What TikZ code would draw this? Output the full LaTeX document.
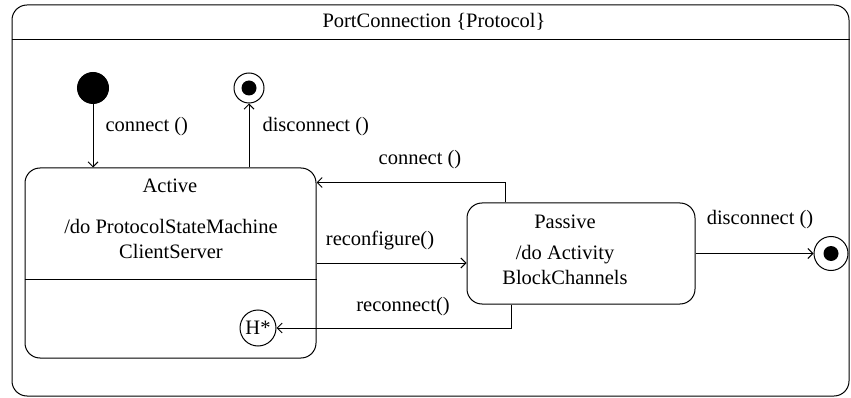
\documentclass[tikz,border=0pt]{standalone}
\usepackage{fontspec}
\setmainfont{Liberation Serif}
\usetikzlibrary{arrows.meta}

\begin{document}
\begin{tikzpicture}[x=1pt, y=-1pt, line width=1pt,
  every node/.style={font=\fontsize{20.5}{25}\selectfont},
  statebox/.style={draw, rectangle, rounded corners=15pt, inner sep=0pt},
  arr/.style={-{Straight Barb[length=5pt,width=10pt]}},
  lbl/.style={inner sep=1pt},
  initst/.style={circle, fill=black, draw, minimum size=31pt, inner sep=0pt},
  finst/.style={circle, draw, minimum size=30pt, inner sep=0pt,
    path picture={\fill (path picture bounding box.center) circle (7.5pt);}}
]
  \useasboundingbox (0,0) rectangle (851,398);

  % frame
  \node[statebox, minimum width=837pt, minimum height=391pt] (frame) at (430.5,200.5) {};
  \draw (frame.west |- 0,40) -- (frame.east |- 0,40);
  \node (title) at (434,22) {PortConnection \{Protocol\}};

  % states
  \node[initst] (init) at (93,88) {};
  \node[finst] (fin1) at (249,88) {};
  \node[finst, minimum size=34pt] (fin2) at (831,253.5) {};

  \node[statebox, minimum width=291pt, minimum height=190pt] (active) at (170.5,263) {};
  \node (acttitle) at (170,186) {Active};
  \node[align=center] (actdo) at (171,239) {/do ProtocolStateMachine\\ClientServer};
  \draw (active.west |- 0,279) -- (active.east |- 0,279);
  \node[circle, draw, minimum size=36pt, inner sep=0pt] (hist) at (258,328) {H*};

  \node[statebox, minimum width=228pt, minimum height=101pt] (passive) at (581,253.5) {};
  \node (pastitle) at (565,222) {Passive};
  \node[align=center] (pasdo) at (565,265) {/do Activity\\BlockChannels};

  % transitions
  \draw[arr] (init) -- (init |- active.north);
  \node[lbl, anchor=west] (l1) at (104,127) {connect ()};
  \draw[arr] (fin1 |- active.north) -- (fin1);
  \node[lbl, anchor=west] (l2) at (261,127) {disconnect ()};

  \draw[arr] ([xshift=-76pt]passive.north) |- ([yshift=-15pt]active.north east);
  \node[lbl] (l3) at (420,160) {connect ()};
  \draw[arr] (active.east) -- (active.east -| passive.west);
  \node[lbl] (l4) at (380,240) {reconfigure()};
  \draw[arr] ([xshift=-70pt]passive.south) |- (hist.east);
  \node[lbl] (l5) at (403,307) {reconnect()};
  \draw[arr] (passive.east) -- (fin2.west);
  \node[lbl] (l6) at (760,220) {disconnect ()};
\end{tikzpicture}
\end{document}
